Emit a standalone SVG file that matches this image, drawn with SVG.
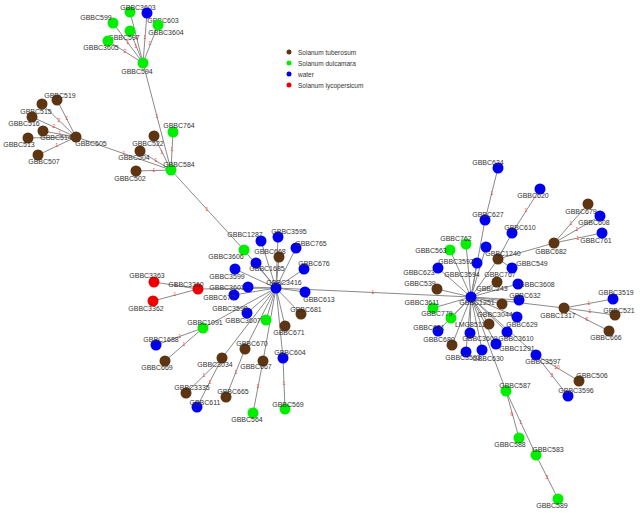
<svg xmlns="http://www.w3.org/2000/svg" width="640" height="523" viewBox="0 0 640 523">
<style>
.e{stroke:#8a8a8a;stroke-width:1;fill:none}
.el{font-family:"Liberation Sans",Arial,sans-serif;font-size:5px;fill:#ff3030;text-anchor:middle}
.t{font-family:"Liberation Sans",Arial,sans-serif;font-size:7px;fill:#333;text-anchor:middle}
.lg{font-family:"Liberation Sans",Arial,sans-serif;font-size:6.5px;fill:#333}
.b{fill:#5e3512}.g{fill:#00ee00}.w{fill:#0000ee}.r{fill:#ee0000}
</style>
<rect width="640" height="523" fill="#fff"/>
<g id="legend">
<circle cx="289" cy="52" r="2.5" class="b"/><text x="298" y="54.5" class="lg">Solanum tuberosum</text>
<circle cx="289" cy="63" r="2.5" class="g"/><text x="298" y="65.5" class="lg">Solanum dulcamara</text>
<circle cx="289" cy="74" r="2.5" class="w"/><text x="298" y="76.5" class="lg">water</text>
<circle cx="289" cy="85" r="2.5" class="r"/><text x="298" y="87.5" class="lg">Solanum lycopersicum</text>
</g>
<g id="connectors">
<line class="e" x1="143" y1="63" x2="130" y2="12"/><line class="e" x1="143" y1="63" x2="147" y2="13"/>
<line class="e" x1="143" y1="63" x2="113" y2="23"/><line class="e" x1="143" y1="63" x2="158" y2="25"/>
<line class="e" x1="143" y1="63" x2="130" y2="31"/><line class="e" x1="143" y1="63" x2="108" y2="41"/>
<line class="e" x1="143" y1="63" x2="171" y2="170"/>
<line class="e" x1="76" y1="137" x2="57" y2="100"/><line class="e" x1="76" y1="137" x2="42" y2="104"/>
<line class="e" x1="76" y1="137" x2="32" y2="117"/><line class="e" x1="76" y1="137" x2="43" y2="131"/>
<line class="e" x1="76" y1="137" x2="28" y2="138"/><line class="e" x1="76" y1="137" x2="38" y2="155"/>
<line class="e" x1="76" y1="137" x2="171" y2="170"/>
<line class="e" x1="171" y1="170" x2="173" y2="132"/><line class="e" x1="171" y1="170" x2="154" y2="136"/>
<line class="e" x1="171" y1="170" x2="140" y2="151"/><line class="e" x1="171" y1="170" x2="136" y2="171"/>
<line class="e" x1="171" y1="170" x2="244" y2="250"/>
<line class="e" x1="276" y1="288" x2="244" y2="250"/><line class="e" x1="276" y1="288" x2="261" y2="241"/>
<line class="e" x1="276" y1="288" x2="278" y2="237"/><line class="e" x1="276" y1="288" x2="296" y2="248"/>
<line class="e" x1="276" y1="288" x2="279" y2="257"/><line class="e" x1="276" y1="288" x2="256" y2="263"/>
<line class="e" x1="276" y1="288" x2="304" y2="269"/><line class="e" x1="276" y1="288" x2="235" y2="269"/>
<line class="e" x1="276" y1="288" x2="248" y2="287"/><line class="e" x1="276" y1="288" x2="234" y2="295"/>
<line class="e" x1="276" y1="288" x2="198" y2="289"/><line class="e" x1="276" y1="288" x2="305" y2="292"/>
<line class="e" x1="276" y1="288" x2="301" y2="314"/><line class="e" x1="276" y1="288" x2="247" y2="313"/>
<line class="e" x1="276" y1="288" x2="266" y2="320"/><line class="e" x1="276" y1="288" x2="285" y2="326"/>
<line class="e" x1="276" y1="288" x2="203" y2="328"/><line class="e" x1="276" y1="288" x2="222" y2="358"/>
<line class="e" x1="276" y1="288" x2="245" y2="349"/><line class="e" x1="276" y1="288" x2="263" y2="361"/>
<line class="e" x1="276" y1="288" x2="283" y2="358"/><line class="e" x1="276" y1="288" x2="471" y2="297"/>
<line class="e" x1="198" y1="289" x2="154" y2="282"/><line class="e" x1="198" y1="289" x2="153" y2="301"/>
<line class="e" x1="203" y1="328" x2="156" y2="345"/><line class="e" x1="203" y1="328" x2="165" y2="361"/>
<line class="e" x1="222" y1="358" x2="186" y2="393"/><line class="e" x1="222" y1="358" x2="197" y2="407"/>
<line class="e" x1="245" y1="349" x2="226" y2="397"/><line class="e" x1="263" y1="361" x2="253" y2="413"/>
<line class="e" x1="283" y1="358" x2="285" y2="409"/>
<line class="e" x1="471" y1="297" x2="466" y2="244"/><line class="e" x1="471" y1="297" x2="450" y2="250"/>
<line class="e" x1="471" y1="297" x2="477" y2="263"/><line class="e" x1="471" y1="297" x2="438" y2="268"/>
<line class="e" x1="471" y1="297" x2="437" y2="289"/><line class="e" x1="471" y1="297" x2="433" y2="308"/>
<line class="e" x1="471" y1="297" x2="451" y2="318"/><line class="e" x1="471" y1="297" x2="438" y2="331"/>
<line class="e" x1="471" y1="297" x2="452" y2="345"/><line class="e" x1="471" y1="297" x2="466" y2="352"/>
<line class="e" x1="471" y1="297" x2="482" y2="350"/><line class="e" x1="471" y1="297" x2="470" y2="333"/>
<line class="e" x1="471" y1="297" x2="489" y2="324"/><line class="e" x1="471" y1="297" x2="502" y2="304"/>
<line class="e" x1="471" y1="297" x2="517" y2="317"/><line class="e" x1="471" y1="297" x2="507" y2="332"/>
<line class="e" x1="471" y1="297" x2="496" y2="344"/><line class="e" x1="471" y1="297" x2="519" y2="300"/>
<line class="e" x1="471" y1="297" x2="518" y2="284"/><line class="e" x1="471" y1="297" x2="497" y2="282"/>
<line class="e" x1="471" y1="297" x2="485" y2="220"/><line class="e" x1="471" y1="297" x2="498" y2="259"/>
<line class="e" x1="471" y1="297" x2="486" y2="247"/><line class="e" x1="471" y1="297" x2="564" y2="308"/>
<line class="e" x1="471" y1="297" x2="506" y2="391"/><line class="e" x1="471" y1="297" x2="536" y2="355"/>
<line class="e" x1="485" y1="220" x2="498" y2="168"/>
<line class="e" x1="498" y1="259" x2="512" y2="233"/><line class="e" x1="512" y1="233" x2="540" y2="189"/>
<line class="e" x1="498" y1="259" x2="554" y2="243"/><line class="e" x1="498" y1="259" x2="512" y2="268"/>
<line class="e" x1="554" y1="243" x2="588" y2="204"/><line class="e" x1="554" y1="243" x2="600" y2="216"/>
<line class="e" x1="554" y1="243" x2="602" y2="233"/>
<line class="e" x1="564" y1="308" x2="613" y2="299"/><line class="e" x1="564" y1="308" x2="615" y2="315"/>
<line class="e" x1="564" y1="308" x2="609" y2="331"/>
<line class="e" x1="536" y1="355" x2="579" y2="381"/><line class="e" x1="536" y1="355" x2="568" y2="396"/>
<line class="e" x1="506" y1="391" x2="519" y2="438"/><line class="e" x1="506" y1="391" x2="536" y2="455"/>
<line class="e" x1="536" y1="455" x2="558" y2="499"/>
</g>
<g id="edge-labels">
<text class="el" x="137" y="39">1</text><text class="el" x="145" y="39">1</text><text class="el" x="128" y="44">1</text>
<text class="el" x="150" y="45">1</text><text class="el" x="136" y="48">1</text><text class="el" x="125" y="53">2</text>
<text class="el" x="157" y="118">1</text>
<text class="el" x="67" y="120">1</text><text class="el" x="59" y="122">2</text><text class="el" x="54" y="128">2</text>
<text class="el" x="60" y="135">1</text><text class="el" x="57" y="147">1</text><text class="el" x="124" y="155">1</text>
<text class="el" x="172" y="151">1</text><text class="el" x="162" y="154">1</text><text class="el" x="156" y="162">1</text>
<text class="el" x="154" y="172">1</text><text class="el" x="207" y="211">1</text>
<text class="el" x="176" y="287">1</text><text class="el" x="175" y="296">1</text>
<text class="el" x="180" y="338">1</text><text class="el" x="184" y="346">1</text>
<text class="el" x="204" y="377">1</text><text class="el" x="210" y="384">1</text><text class="el" x="236" y="374">1</text>
<text class="el" x="258" y="388">1</text><text class="el" x="284" y="385">1</text>
<text class="el" x="373" y="294">1</text>
<text class="el" x="492" y="195">1</text><text class="el" x="526" y="212">1</text>
<text class="el" x="571" y="225">1</text><text class="el" x="577" y="231">1</text><text class="el" x="578" y="240">1</text>
<text class="el" x="589" y="305">1</text><text class="el" x="590" y="313">1</text><text class="el" x="587" y="321">6</text>
<text class="el" x="557" y="369">10</text><text class="el" x="552" y="377">3</text>
<text class="el" x="512" y="416">6</text><text class="el" x="521" y="424">1</text><text class="el" x="547" y="479">3</text>
</g>
<g id="GBBC594"><circle cx="143" cy="63" r="5.5" class="g"/><text x="137" y="73.5" class="t">GBBC594</text></g>
<g id="GBBC3603"><circle cx="130" cy="12" r="5.5" class="g"/><text x="138" y="9.5" class="t">GBBC3603</text></g>
<g id="GBBC603"><circle cx="147" cy="13" r="5.5" class="w"/><text x="163" y="22.5" class="t">GBBC603</text></g>
<g id="GBBC599"><circle cx="113" cy="23" r="5.5" class="g"/><text x="96" y="19.5" class="t">GBBC599</text></g>
<g id="GBBC3604"><circle cx="158" cy="25" r="5.5" class="g"/><text x="166" y="34.5" class="t">GBBC3604</text></g>
<g id="GBBC597"><circle cx="130" cy="31" r="5.5" class="g"/><text x="124" y="39.5" class="t">GBBC597</text></g>
<g id="GBBC3605"><circle cx="108" cy="41" r="5.5" class="g"/><text x="101" y="49.5" class="t">GBBC3605</text></g>
<g id="GBBC505"><circle cx="76" cy="137" r="5.5" class="b"/><text x="91" y="145.5" class="t">GBBC505</text></g>
<g id="GBBC519"><circle cx="57" cy="100" r="5.5" class="b"/><text x="60" y="97.5" class="t">GBBC519</text></g>
<g id="GBBC515"><circle cx="42" cy="104" r="5.5" class="b"/><text x="36" y="113.5" class="t">GBBC515</text></g>
<g id="GBBC516"><circle cx="32" cy="117" r="5.5" class="b"/><text x="24" y="125.5" class="t">GBBC516</text></g>
<g id="GBBC514"><circle cx="43" cy="131" r="5.5" class="b"/><text x="56" y="139.5" class="t">GBBC514</text></g>
<g id="GBBC513"><circle cx="28" cy="138" r="5.5" class="b"/><text x="19" y="146.5" class="t">GBBC513</text></g>
<g id="GBBC507"><circle cx="38" cy="155" r="5.5" class="b"/><text x="44" y="163.5" class="t">GBBC507</text></g>
<g id="GBBC584"><circle cx="171" cy="170" r="5.5" class="g"/><text x="179" y="166.5" class="t">GBBC584</text></g>
<g id="GBBC764"><circle cx="173" cy="132" r="5.5" class="g"/><text x="179" y="127.5" class="t">GBBC764</text></g>
<g id="GBBC522"><circle cx="154" cy="136" r="5.5" class="b"/><text x="148" y="145.5" class="t">GBBC522</text></g>
<g id="GBBC504"><circle cx="140" cy="151" r="5.5" class="b"/><text x="134" y="159.5" class="t">GBBC504</text></g>
<g id="GBBC502"><circle cx="136" cy="171" r="5.5" class="b"/><text x="130" y="180.5" class="t">GBBC502</text></g>
<g id="GBBC3416"><circle cx="276" cy="288" r="5.5" class="w"/><text x="284" y="284.5" class="t">GBBC3416</text></g>
<g id="GBBC3606"><circle cx="244" cy="250" r="5.5" class="g"/><text x="226" y="258.5" class="t">GBBC3606</text></g>
<g id="GBBC1287"><circle cx="261" cy="241" r="5.5" class="w"/><text x="245" y="236.5" class="t">GBBC1287</text></g>
<g id="GBBC3595"><circle cx="278" cy="237" r="5.5" class="w"/><text x="289" y="233.5" class="t">GBBC3595</text></g>
<g id="GBBC765"><circle cx="296" cy="248" r="5.5" class="w"/><text x="311" y="245.5" class="t">GBBC765</text></g>
<g id="GBBC668"><circle cx="279" cy="257" r="5.5" class="b"/><text x="270" y="253.5" class="t">GBBC668</text></g>
<g id="GBBC1685"><circle cx="256" cy="263" r="5.5" class="w"/><text x="267" y="270.5" class="t">GBBC1685</text></g>
<g id="GBBC676"><circle cx="304" cy="269" r="5.5" class="w"/><text x="314" y="265.5" class="t">GBBC676</text></g>
<g id="GBBC3599"><circle cx="235" cy="269" r="5.5" class="w"/><text x="227" y="278.5" class="t">GBBC3599</text></g>
<g id="GBBC3601"><circle cx="248" cy="287" r="5.5" class="w"/><text x="227" y="289.5" class="t">GBBC3601</text></g>
<g id="GBBC672"><circle cx="234" cy="295" r="5.5" class="w"/><text x="219" y="299.5" class="t">GBBC672</text></g>
<g id="GBBC613"><circle cx="305" cy="292" r="5.5" class="w"/><text x="319" y="301.5" class="t">GBBC613</text></g>
<g id="GBBC681"><circle cx="301" cy="314" r="5.5" class="b"/><text x="306" y="311.5" class="t">GBBC681</text></g>
<g id="GBBC3598"><circle cx="247" cy="313" r="5.5" class="w"/><text x="230" y="310.5" class="t">GBBC3598</text></g>
<g id="GBBC3607"><circle cx="266" cy="320" r="5.5" class="g"/><text x="243" y="322.5" class="t">GBBC3607</text></g>
<g id="GBBC671"><circle cx="285" cy="326" r="5.5" class="b"/><text x="289" y="334.5" class="t">GBBC671</text></g>
<g id="GBBC3360"><circle cx="198" cy="289" r="5.5" class="r"/><text x="186" y="286.5" class="t">GBBC3360</text></g>
<g id="GBBC3363"><circle cx="154" cy="282" r="5.5" class="r"/><text x="147" y="277.5" class="t">GBBC3363</text></g>
<g id="GBBC3362"><circle cx="153" cy="301" r="5.5" class="r"/><text x="146" y="310.5" class="t">GBBC3362</text></g>
<g id="GBBC1091"><circle cx="203" cy="328" r="5.5" class="g"/><text x="205" y="324.5" class="t">GBBC1091</text></g>
<g id="GBBC1688"><circle cx="156" cy="345" r="5.5" class="w"/><text x="161" y="341.5" class="t">GBBC1688</text></g>
<g id="GBBC669"><circle cx="165" cy="361" r="5.5" class="b"/><text x="157" y="369.5" class="t">GBBC669</text></g>
<g id="GBBC670"><circle cx="245" cy="349" r="5.5" class="b"/><text x="252" y="345.5" class="t">GBBC670</text></g>
<g id="GBBC3034"><circle cx="222" cy="358" r="5.5" class="b"/><text x="215" y="366.5" class="t">GBBC3034</text></g>
<g id="GBBC667"><circle cx="263" cy="361" r="5.5" class="b"/><text x="256" y="368.5" class="t">GBBC667</text></g>
<g id="GBBC604"><circle cx="283" cy="358" r="5.5" class="w"/><text x="290" y="354.5" class="t">GBBC604</text></g>
<g id="GBBC3335"><circle cx="186" cy="393" r="5.5" class="b"/><text x="192" y="389.5" class="t">GBBC3335</text></g>
<g id="GBBC665"><circle cx="226" cy="397" r="5.5" class="b"/><text x="233" y="393.5" class="t">GBBC665</text></g>
<g id="GBBC611"><circle cx="197" cy="407" r="5.5" class="w"/><text x="205" y="404.5" class="t">GBBC611</text></g>
<g id="GBBC564"><circle cx="253" cy="413" r="5.5" class="g"/><text x="247" y="421.5" class="t">GBBC564</text></g>
<g id="GBBC569"><circle cx="285" cy="409" r="5.5" class="g"/><text x="288" y="406.5" class="t">GBBC569</text></g>
<g id="GBBC762"><circle cx="466" cy="244" r="5.5" class="g"/><text x="456" y="240.5" class="t">GBBC762</text></g>
<g id="GBBC563"><circle cx="450" cy="250" r="5.5" class="g"/><text x="431" y="252.5" class="t">GBBC563</text></g>
<g id="GBBC3592"><circle cx="477" cy="263" r="5.5" class="w"/><text x="456" y="263.5" class="t">GBBC3592</text></g>
<g id="GBBC623"><circle cx="438" cy="268" r="5.5" class="w"/><text x="419" y="274.5" class="t">GBBC623</text></g>
<g id="GBBC3594"><text x="462" y="276.5" class="t">GBBC3594</text></g>
<g id="node-486-247"><circle cx="486" cy="247" r="5.5" class="w"/></g>
<g id="GBBC539"><circle cx="437" cy="289" r="5.5" class="b"/><text x="420" y="285.5" class="t">GBBC539</text></g>
<g id="GBBC3611"><circle cx="433" cy="308" r="5.5" class="g"/><text x="422" y="304.5" class="t">GBBC3611</text></g>
<g id="GBBC779"><circle cx="451" cy="318" r="5.5" class="g"/><text x="437" y="315.5" class="t">GBBC779</text></g>
<g id="GBBC631"><circle cx="438" cy="331" r="5.5" class="w"/><text x="429" y="329.5" class="t">GBBC631</text></g>
<g id="GBBC680"><circle cx="452" cy="345" r="5.5" class="b"/><text x="439" y="341.5" class="t">GBBC680</text></g>
<g id="GBBC3593"><circle cx="466" cy="352" r="5.5" class="w"/><text x="463" y="359.5" class="t">GBBC3593</text></g>
<g id="GBBC3609"><circle cx="470" cy="333" r="5.5" class="w"/><text x="480" y="340.5" class="t">GBBC3609</text></g>
<g id="GBBC630"><circle cx="482" cy="350" r="5.5" class="w"/><text x="488" y="360.5" class="t">GBBC630</text></g>
<g id="LMG8511"><circle cx="489" cy="324" r="5.5" class="b"/><text x="470" y="326.5" class="t">LMG8511</text></g>
<g id="GBBC3044"><circle cx="502" cy="304" r="5.5" class="b"/><text x="495" y="316.5" class="t">GBBC3044</text></g>
<g id="GBBC629"><circle cx="517" cy="317" r="5.5" class="w"/><text x="522" y="326.5" class="t">GBBC629</text></g>
<g id="GBBC3610"><circle cx="507" cy="332" r="5.5" class="w"/><text x="516" y="340.5" class="t">GBBC3610</text></g>
<g id="GBBC1291"><circle cx="496" cy="344" r="5.5" class="w"/><text x="517" y="350.5" class="t">GBBC1291</text></g>
<g id="GBBC632"><circle cx="519" cy="300" r="5.5" class="w"/><text x="525" y="297.5" class="t">GBBC632</text></g>
<g id="GBBC3608"><circle cx="518" cy="284" r="5.5" class="w"/><text x="537" y="286.5" class="t">GBBC3608</text></g>
<g id="GBBC767"><circle cx="497" cy="282" r="5.5" class="b"/><text x="500" y="276.5" class="t">GBBC767</text></g>
<g id="GBBC243"><text x="492" y="290.5" class="t">GBBC243</text></g>
<g id="GBBC1240"><circle cx="498" cy="259" r="5.5" class="b"/><text x="503" y="255.5" class="t">GBBC1240</text></g>
<g id="GBBC549"><circle cx="512" cy="268" r="5.5" class="w"/><text x="532" y="265.5" class="t">GBBC549</text></g>
<g id="GBBC627"><circle cx="485" cy="220" r="5.5" class="w"/><text x="488" y="216.5" class="t">GBBC627</text></g>
<g id="GBBC624"><circle cx="498" cy="168" r="5.5" class="w"/><text x="488" y="164.5" class="t">GBBC624</text></g>
<g id="GBBC610"><circle cx="512" cy="233" r="5.5" class="w"/><text x="520" y="229.5" class="t">GBBC610</text></g>
<g id="GBBC620"><circle cx="540" cy="189" r="5.5" class="w"/><text x="533" y="197.5" class="t">GBBC620</text></g>
<g id="GBBC682"><circle cx="554" cy="243" r="5.5" class="b"/><text x="551" y="253.5" class="t">GBBC682</text></g>
<g id="GBBC679"><circle cx="588" cy="204" r="5.5" class="b"/><text x="581" y="213.5" class="t">GBBC679</text></g>
<g id="GBBC608"><circle cx="600" cy="216" r="5.5" class="w"/><text x="594" y="224.5" class="t">GBBC608</text></g>
<g id="GBBC761"><circle cx="602" cy="233" r="5.5" class="w"/><text x="596" y="242.5" class="t">GBBC761</text></g>
<g id="GBBC1317"><circle cx="564" cy="308" r="5.5" class="b"/><text x="558" y="317.5" class="t">GBBC1317</text></g>
<g id="GBBC3519"><circle cx="613" cy="299" r="5.5" class="w"/><text x="616" y="294.5" class="t">GBBC3519</text></g>
<g id="GBBC521"><circle cx="615" cy="315" r="5.5" class="b"/><text x="619" y="312.5" class="t">GBBC521</text></g>
<g id="GBBC666"><circle cx="609" cy="331" r="5.5" class="b"/><text x="606" y="339.5" class="t">GBBC666</text></g>
<g id="GBBC3597"><circle cx="536" cy="355" r="5.5" class="w"/><text x="543" y="363.5" class="t">GBBC3597</text></g>
<g id="GBBC506"><circle cx="579" cy="381" r="5.5" class="b"/><text x="592" y="377.5" class="t">GBBC506</text></g>
<g id="GBBC3596"><circle cx="568" cy="396" r="5.5" class="w"/><text x="576" y="392.5" class="t">GBBC3596</text></g>
<g id="GBBC587"><circle cx="506" cy="391" r="5.5" class="g"/><text x="515" y="387.5" class="t">GBBC587</text></g>
<g id="GBBC588"><circle cx="519" cy="438" r="5.5" class="g"/><text x="510" y="446.5" class="t">GBBC588</text></g>
<g id="GBBC583"><circle cx="536" cy="455" r="5.5" class="g"/><text x="548" y="451.5" class="t">GBBC583</text></g>
<g id="GBBC589"><circle cx="558" cy="499" r="5.5" class="g"/><text x="552" y="507.5" class="t">GBBC589</text></g>
<g id="GBBC1251"><circle cx="471" cy="297" r="5.5" class="w"/><text x="477" y="304.5" class="t">GBBC1251</text></g>
</svg>
